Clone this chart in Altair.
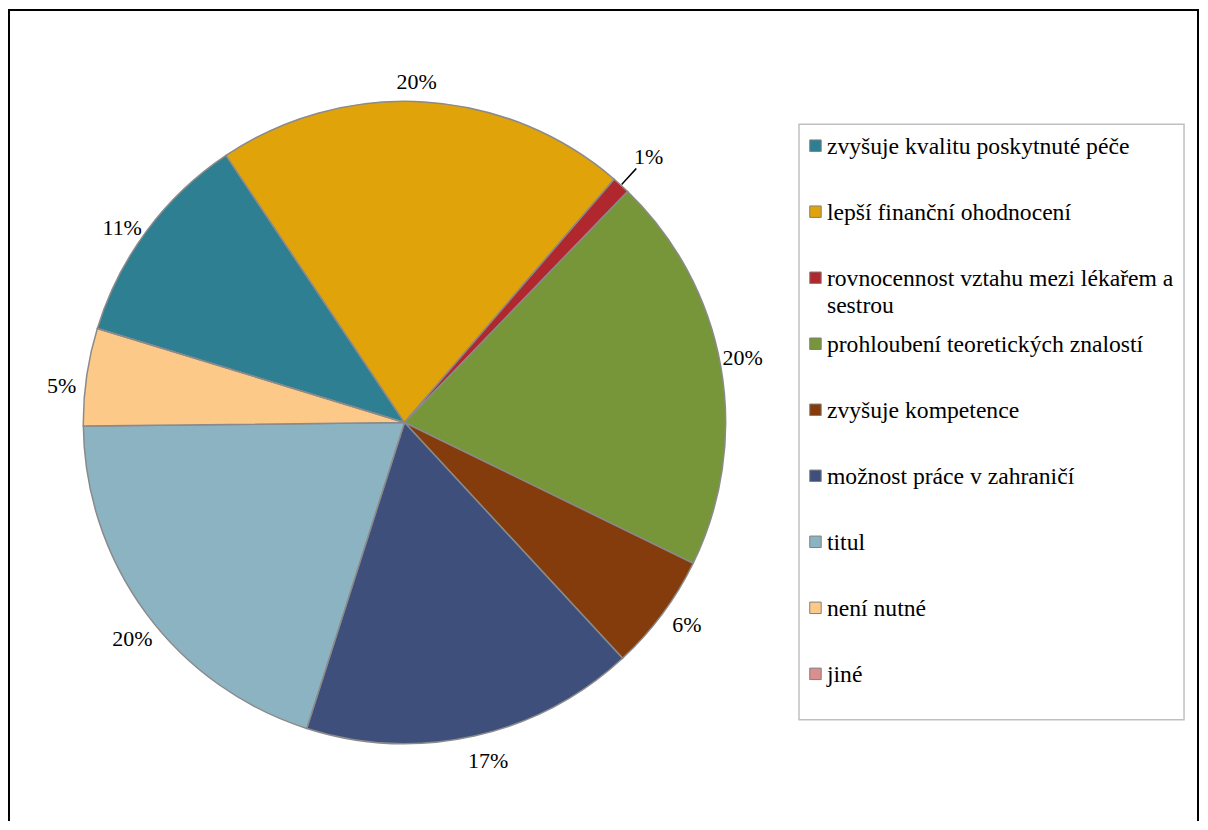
import math
import altair as alt
import pandas as pd

# ---- data ----
categories = [
    "zvyšuje kvalitu poskytnuté péče",
    "lepší finanční ohodnocení",
    "rovnocennost vztahu mezi lékařem a sestrou",
    "prohloubení teoretických znalostí",
    "zvyšuje kompetence",
    "možnost práce v zahraničí",
    "titul",
    "není nutné",
    "jiné",
]
legend_text = [
    "zvyšuje kvalitu poskytnuté péče",
    "lepší finanční ohodnocení",
    "rovnocennost vztahu mezi lékařem a\nsestrou",
    "prohloubení teoretických znalostí",
    "zvyšuje kompetence",
    "možnost práce v zahraničí",
    "titul",
    "není nutné",
    "jiné",
]
shares = [10.9, 20.7, 0.9, 20.0, 5.9, 16.8, 19.9, 4.9, 0.0]
pct_labels = ["11%", "20%", "1%", "20%", "6%", "17%", "20%", "5%", ""]
colors = ["#2E7F92", "#E1A30A", "#B0282D", "#77963A", "#843C0C",
          "#3E4F7C", "#8CB3C2", "#FDC988", "#D98F8E"]

df = pd.DataFrame({
    "cat": categories,
    "share": shares,
    "pct": pct_labels,
    "leg": legend_text,
    "ord": list(range(len(categories))),
})

W, H = 1195, 814
CX, CY, R = 397.5, 414.5, 322
start = math.radians(287.0)
label_shift = math.radians(-1.5)
FONT = "Liberation Serif, Times New Roman, serif"

theta_scale = alt.Scale(range=[start, start + 2 * math.pi])
label_scale = alt.Scale(range=[start + label_shift, start + label_shift + 2 * math.pi])
theta = alt.Theta("share:Q", stack=True, scale=theta_scale)
order = alt.Order("ord:Q", sort="ascending")
color = alt.Color("cat:N", scale=alt.Scale(domain=categories, range=colors), legend=None)

base = alt.Chart(df)

pie = base.mark_arc(stroke="#8a8a8a", strokeWidth=1.5).encode(
    theta=theta, order=order, color=color,
    x=alt.value(CX), y=alt.value(CY), radius=alt.value(R),
)

labels = base.transform_calculate(
    t="datum.share >= 1.5 ? datum.pct : ''"
).mark_text(font=FONT, fontSize=22, color="black", dy=4).encode(
    theta=alt.Theta("share:Q", stack=True, scale=label_scale),
    order=order, text="t:N",
    x=alt.value(CX), y=alt.value(CY), radius=alt.value(346),
)

small_label = base.transform_calculate(
    t="datum.share > 0 && datum.share < 1.5 ? datum.pct : ''"
).mark_text(font=FONT, fontSize=22, color="black", dy=2).encode(
    theta=theta, order=order, text="t:N",
    x=alt.value(CX), y=alt.value(CY), radius=alt.value(363),
)

leader = base.mark_arc(padAngle=0.0405, fillOpacity=0, stroke="black", strokeWidth=1.4).encode(
    theta=theta, order=order,
    x=alt.value(CX), y=alt.value(CY),
    radius=alt.value(344), radius2=alt.value(323),
    strokeOpacity=alt.condition((alt.datum.share > 0) & (alt.datum.share < 1.5),
                                alt.value(1), alt.value(0)),
)

ypos = alt.Y("cat:N", scale=alt.Scale(domain=categories, range=[137, 666.5], padding=0), axis=None)

legend_sym = base.mark_square(size=132, stroke="#7f7f7f", strokeWidth=1, opacity=1).encode(
    x=alt.value(809.5), y=ypos, color=color,
)

legend_lab = base.mark_text(
    align="left", baseline="alphabetic", dy=8, font=FONT, fontSize=23.7,
    lineBreak="\n", lineHeight=27, color="black",
).encode(x=alt.value(821), y=ypos, text="leg:N")

one = alt.Chart(pd.DataFrame({"k": [0]}))
legend_box = one.mark_rect(fillOpacity=0, stroke="#c0c0c0", strokeWidth=1.5).encode(
    x=alt.value(793), x2=alt.value(1179), y=alt.value(115.5), y2=alt.value(712.5),
)
frame_left = one.mark_rule(color="black", strokeWidth=2).encode(
    x=alt.value(1), y=alt.value(0), y2=alt.value(H))
frame_right = one.mark_rule(color="black", strokeWidth=2).encode(
    x=alt.value(1193), y=alt.value(0), y2=alt.value(H))
frame_top = one.mark_rule(color="black", strokeWidth=2).encode(
    x=alt.value(0), x2=alt.value(1194), y=alt.value(1))

chart = alt.layer(
    pie, labels, small_label, leader, legend_box, legend_sym, legend_lab,
    frame_left, frame_right, frame_top,
).resolve_scale(theta="independent").properties(
    width=W, height=H, padding=0,
    autosize=alt.AutoSizeParams(type="none"),
    background="white",
).configure_view(stroke=None)

chart.save("out.html", embed_options={"renderer": "svg", "actions": False})
